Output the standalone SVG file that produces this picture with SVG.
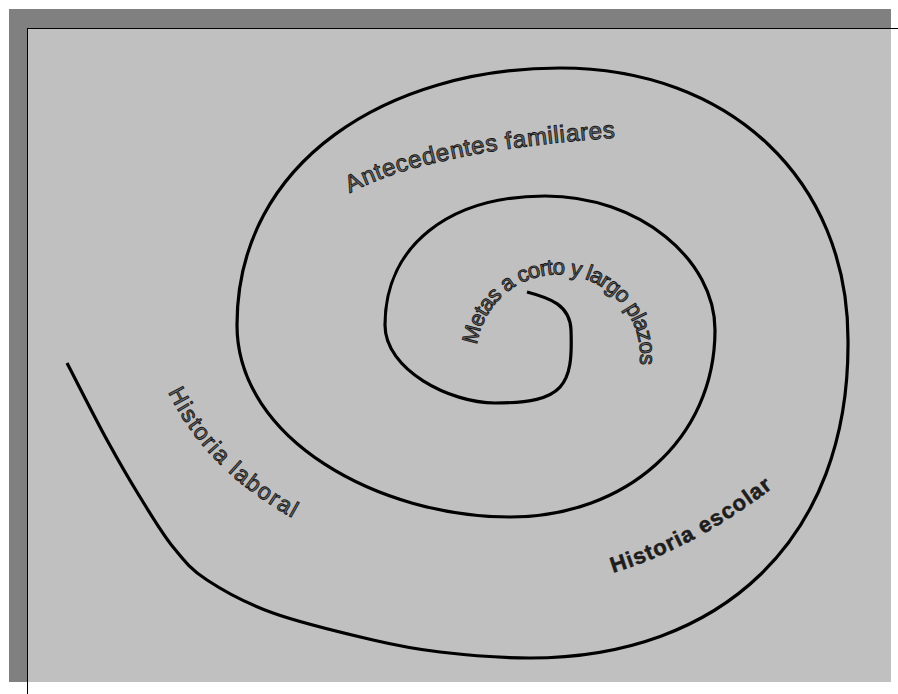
<svg xmlns="http://www.w3.org/2000/svg" xmlns:xlink="http://www.w3.org/1999/xlink" width="898" height="694" viewBox="0 0 898 694">
<style>
.lbl{font-family:"Liberation Sans",Arial,sans-serif;stroke:#161616;stroke-width:0.9;fill:#6a6a6a}
.dark{fill:#1e1e1e;font-weight:bold;stroke-width:0.5}
.spiral{fill:none;stroke:#000;stroke-width:3.2;stroke-linecap:butt;stroke-linejoin:round}
</style>
<defs>
<path id="pAnte" d="M350,193 Q430,150 625,137"/>
<path id="pMetas" d="M477,345 A82,82 0 1 1 633,390"/>
<path id="pLab" d="M168,392 Q210,478 310,527"/>
<path id="pEsc" d="M613,573 Q705,545 795,470"/>
</defs>
<g id="frame">
<rect x="9" y="9" width="882" height="673" fill="#808080"/>
<rect x="27" y="28" width="864" height="654" fill="#c0c0c0"/>
<line x1="27" y1="28.5" x2="898" y2="28.5" stroke="#000" stroke-width="1"/>
<line x1="27.5" y1="28" x2="27.5" y2="694" stroke="#000" stroke-width="1"/>
</g>
<g id="connectors">
<path class="spiral" d="M527,292 C550,298 570,305 571,330 C573,385 565,403 495,403 C450,403 385,370 385,325 C385,245 450,196 545,196 C640,196 715,260 715,330 C715,440 625,517 510,517 C380,517 237,440 237,325 C237,160 390,68 560,68 C730,68 848,180 848,340 C850,540 720,658 530,658 C501.7,658 466.2,655 440,652 C413.8,649 400.8,646.5 373,640 C345.2,633.5 300.7,623 273,613 C245.3,603 223.7,591 207,580 C190.3,569 184.2,560.8 173,547 C161.8,533.2 151,514.8 140,497 C129,479.2 119.2,462.3 107,440 C94.8,417.7 77,382.2 67,363"/>
</g>
<g id="node-antecedentes">
<text class="lbl" font-size="24"><textPath xlink:href="#pAnte" href="#pAnte" textLength="273" lengthAdjust="spacing">Antecedentes familiares</textPath></text>
</g>
<g id="node-metas">
<text class="lbl" font-size="22"><textPath xlink:href="#pMetas" href="#pMetas" textLength="254" lengthAdjust="spacing">Metas a corto y largo plazos</textPath></text>
</g>
<g id="node-laboral">
<text class="lbl" font-size="23"><textPath xlink:href="#pLab" href="#pLab" textLength="180" lengthAdjust="spacing">Historia laboral</textPath></text>
</g>
<g id="node-escolar">
<text class="lbl dark" font-size="22"><textPath xlink:href="#pEsc" href="#pEsc" textLength="182" lengthAdjust="spacing">Historia escolar</textPath></text>
</g>
</svg>
